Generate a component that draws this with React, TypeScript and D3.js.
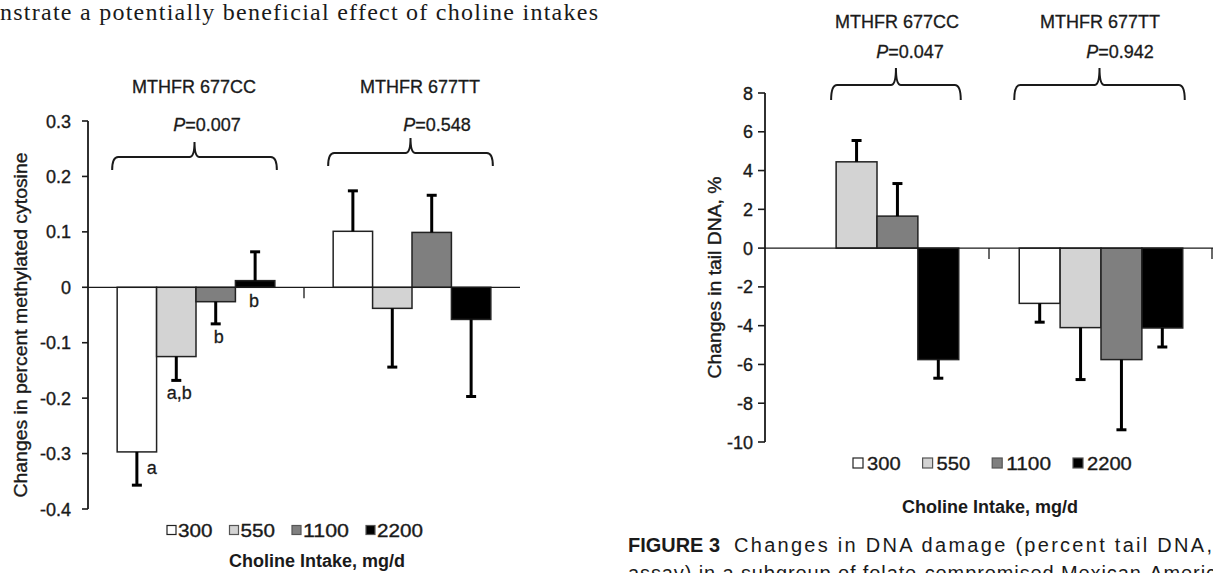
import React from 'react';
import * as d3 from 'd3';

// shared categories
const doses = ['300', '550', '1100', '2200'];
const genotypes = ['MTHFR 677CC', 'MTHFR 677TT'];
const doseFill = ['#ffffff', '#d3d3d3', '#7f7f7f', '#000000'];

// left panel: change in percent methylated cytosine
const methCC = [-0.297, -0.125, -0.026, 0.012];
const methCCErr = [0.06, 0.043, 0.04, 0.052];
const methTT = [0.101, -0.038, 0.099, -0.058];
const methTTErr = [0.073, 0.106, 0.067, 0.139];
const methP = ['0.007', '0.548'];
const methLetters = ['a', 'a,b', 'b', 'b'];
const methTicks = [-0.4, -0.3, -0.2, -0.1, 0, 0.1, 0.2, 0.3];

// right panel: change in tail DNA (no 300 mg/d bar for 677CC)
const dnaCC = [null, 4.45, 1.65, -5.75];
const dnaCCErr = [null, 1.1, 1.68, 0.96];
const dnaTT = [-2.85, -4.1, -5.75, -4.12];
const dnaTTErr = [0.97, 2.68, 3.62, 0.98];
const dnaP = ['0.047', '0.942'];
const dnaTicks = [-10, -8, -6, -4, -2, 0, 2, 4, 6, 8];

const FONT = '"Liberation Sans", Arial, Helvetica, sans-serif';
const INK = '#1a1a1a';

const panels = [
  {
    key: 'meth',
    left: 88, right: 520, top: 121, bottom: 509,
    domain: [-0.4, 0.3], ticks: methTicks,
    fmt: (d: number) => (d === 0 ? '0' : d.toFixed(1)),
    values: [methCC, methTT], errs: [methCCErr, methTTErr], pvals: methP,
    letters: [methLetters, null],
    yLabel: 'Changes in percent methylated cytosine', yLabelX: 27, yLabelLen: 345,
    tickLen: 6, labelGap: 17, endTick: false,
    headerY: 93, headerDx: [-2, 8], pY: 131, pDx: [11, 25],
    bracketY: [157, 153], bracketDrop: 13, bracketPeak: 15,
    legendY: 530, legendX: 167, sq: 9, sqGap: 11, digitW: 11.5, itemGap: 17,
    xLabelX: 317, xLabelY: 567,
  },
  {
    key: 'dna',
    left: 765, right: 1213, top: 93, bottom: 442,
    domain: [-10, 8], ticks: dnaTicks,
    fmt: (d: number) => String(d),
    values: [dnaCC, dnaTT], errs: [dnaCCErr, dnaTTErr], pvals: dnaP,
    letters: [null, null],
    yLabel: 'Changes in tail DNA, %', yLabelX: 721, yLabelLen: 202,
    tickLen: 7, labelGap: 12, endTick: true,
    headerY: 28, headerDx: [20, -1], pY: 58, pDx: [33, 19],
    bracketY: [85, 85], bracketDrop: 15, bracketPeak: 17,
    legendY: 463, legendX: 853, sq: 10, sqGap: 14, digitW: 11.2, itemGap: 22,
    xLabelX: 990, xLabelY: 513,
  },
];

function bracePath(xs: number, xe: number, yH: number, drop: number, peak: number) {
  const xm = (xs + xe) / 2;
  const yE = yH + drop;
  const yP = yH - peak;
  return `M${xs},${yE} Q${xs},${yH} ${xs + 6},${yH} L${xm - 5},${yH} Q${xm},${yH} ${xm},${yP} ` +
    `Q${xm},${yH} ${xm + 5},${yH} L${xe - 6},${yH} Q${xe},${yH} ${xe},${yE}`;
}

function Panel({ p }: { p: any }) {
  const x0 = d3.scaleBand().domain(genotypes).range([p.left, p.right]);
  const x1 = d3.scaleBand().domain(doses).range([0, x0.bandwidth()]).paddingInner(0).paddingOuter(0.74);
  const y = d3.scaleLinear().domain(p.domain).range([p.bottom, p.top]);
  const y0 = y(0);
  const bw = x1.bandwidth();

  // legend layout
  let lx = p.legendX;
  const legend = doses.map((d, i) => {
    const item = { d, i, x: lx, tx: lx + p.sqGap, w: d.length * p.digitW };
    lx = item.tx + item.w + p.itemGap;
    return item;
  });

  return (
    <g>
      {/* y axis */}
      <line x1={p.left} x2={p.left} y1={y(p.domain[1])} y2={y(p.domain[0])} stroke={INK} strokeWidth={1.8} />
      <g stroke={INK} strokeWidth={0.35}>
        {p.ticks.map((t: number) => (
          <g key={t}>
            <line x1={p.left - p.tickLen} x2={p.left} y1={y(t)} y2={y(t)} stroke={INK} strokeWidth={1.6} />
            <text x={p.left - p.labelGap} y={y(t) + 6.5} textAnchor="end" fontSize={18} fill={INK}>{p.fmt(t)}</text>
          </g>
        ))}
        <text transform={`translate(${p.yLabelX},${(y(p.domain[0]) + y(p.domain[1])) / 2 + 10}) rotate(-90)`}
          textAnchor="middle" fontSize={19} fill={INK} textLength={p.yLabelLen} lengthAdjust="spacingAndGlyphs">
          {p.yLabel}
        </text>
      </g>

      {genotypes.map((g, gi) => {
        const gx = x0(g)!;
        const cx = gx + x0.bandwidth() / 2;
        const vals = p.values[gi];
        const errs = p.errs[gi];
        const present = doses.filter((d, i) => vals[i] !== null);
        const xs = gx + x1(present[0])! - 5;
        const xe = gx + x1(doses[doses.length - 1])! + bw + 2;
        return (
          <g key={g}>
            <text x={cx + p.headerDx[gi]} y={p.headerY} textAnchor="middle" fontSize={18} fill={INK}
              stroke={INK} strokeWidth={0.3}>{g}</text>
            <text x={cx + p.pDx[gi]} y={p.pY} textAnchor="middle" fontSize={18} fill={INK} stroke={INK} strokeWidth={0.3}>
              <tspan fontStyle="italic">P</tspan>={p.pvals[gi]}
            </text>
            <path d={bracePath(xs, xe, p.bracketY[gi], p.bracketDrop, p.bracketPeak)} fill="none" stroke={INK} strokeWidth={2} />
            {doses.map((d, i) => {
              const v = vals[i];
              if (v === null) return null;
              const bx = gx + x1(d)!;
              return (
                <rect key={d} x={bx} width={bw} y={Math.min(y(v), y0)} height={Math.abs(y(v) - y0)}
                  fill={doseFill[i]} stroke="#222" strokeWidth={1.5} />
              );
            })}
            {doses.map((d, i) => {
              const v = vals[i];
              if (v === null) return null;
              const bc = gx + x1(d)! + bw / 2;
              const end = v + (v < 0 ? -errs[i] : errs[i]);
              return (
                <g key={'e' + d} stroke="#000" strokeWidth={3}>
                  <line x1={bc} x2={bc} y1={y(v)} y2={y(end)} />
                  <line x1={bc - 5} x2={bc + 5} y1={y(end)} y2={y(end)} />
                </g>
              );
            })}
            {p.letters[gi] && doses.map((d, i) => {
              const v = vals[i];
              const bc = gx + x1(d)! + bw / 2;
              const end = v + (v < 0 ? -errs[i] : errs[i]);
              let tx = bc + 3, ty = y(end) + 19;
              if (i === 0) { tx = bc + 15; ty = (y(v) + y(end)) / 2 + 5; }
              else if (v >= 0) { tx = bc - 1; ty = y0 + 20; }
              return (
                <text key={'l' + d} x={tx} y={ty} textAnchor="middle" fontSize={18} fill={INK}
                  stroke={INK} strokeWidth={0.3}>{p.letters[gi][i]}</text>
              );
            })}
          </g>
        );
      })}

      {/* zero line and category ticks */}
      <line x1={p.left} x2={p.right} y1={y0} y2={y0} stroke={INK} strokeWidth={1.3} />
      <line x1={x0(genotypes[1])} x2={x0(genotypes[1])} y1={y0} y2={y0 + 11} stroke={INK} strokeWidth={1.3} />
      {p.endTick && <line x1={p.right - 1} x2={p.right - 1} y1={y0} y2={y0 + 11} stroke={INK} strokeWidth={1.3} />}

      {/* legend */}
      {legend.map(it => (
        <g key={it.d}>
          <rect x={it.x} y={p.legendY - p.sq / 2} width={p.sq} height={p.sq} fill={doseFill[it.i]}
            stroke={it.i === 0 ? '#222' : '#555'} strokeWidth={1.2} />
          <text x={it.tx} y={p.legendY + 7} fontSize={19} fill={INK} stroke={INK} strokeWidth={0.35}
            textLength={it.w} lengthAdjust="spacingAndGlyphs">{it.d}</text>
        </g>
      ))}
      <text x={p.xLabelX} y={p.xLabelY} textAnchor="middle" fontSize={18} fontWeight="bold" fill={INK}>
        Choline Intake, mg/d
      </text>
    </g>
  );
}

export default function App() {
  return (
    <svg width={1213} height={573} viewBox="0 0 1213 573"
      style={{ position: 'absolute', left: 0, top: 0, background: '#fff', fontFamily: FONT }}>
      <rect width={1213} height={573} fill="#fff" />
      <text x={0} y={20} fontSize={24} fontFamily='"Liberation Serif", "DejaVu Serif", serif' fill={INK}
        textLength={598} lengthAdjust="spacing">
        nstrate a potentially beneficial effect of choline intakes
      </text>
      {panels.map(p => <Panel key={p.key} p={p} />)}
      <text x={628} y={552} fontSize={20} fontWeight="bold" fill={INK} textLength={92} lengthAdjust="spacingAndGlyphs">FIGURE 3</text>
      <text x={734} y={552} fontSize={20} fill={INK} textLength={478} lengthAdjust="spacing">
        Changes in DNA damage (percent tail DNA,
      </text>
      <text x={628} y={580} fontSize={20} fill={INK} textLength={612} lengthAdjust="spacing">
        assay) in a subgroup of folate-compromised Mexican-American
      </text>
    </svg>
  );
}
